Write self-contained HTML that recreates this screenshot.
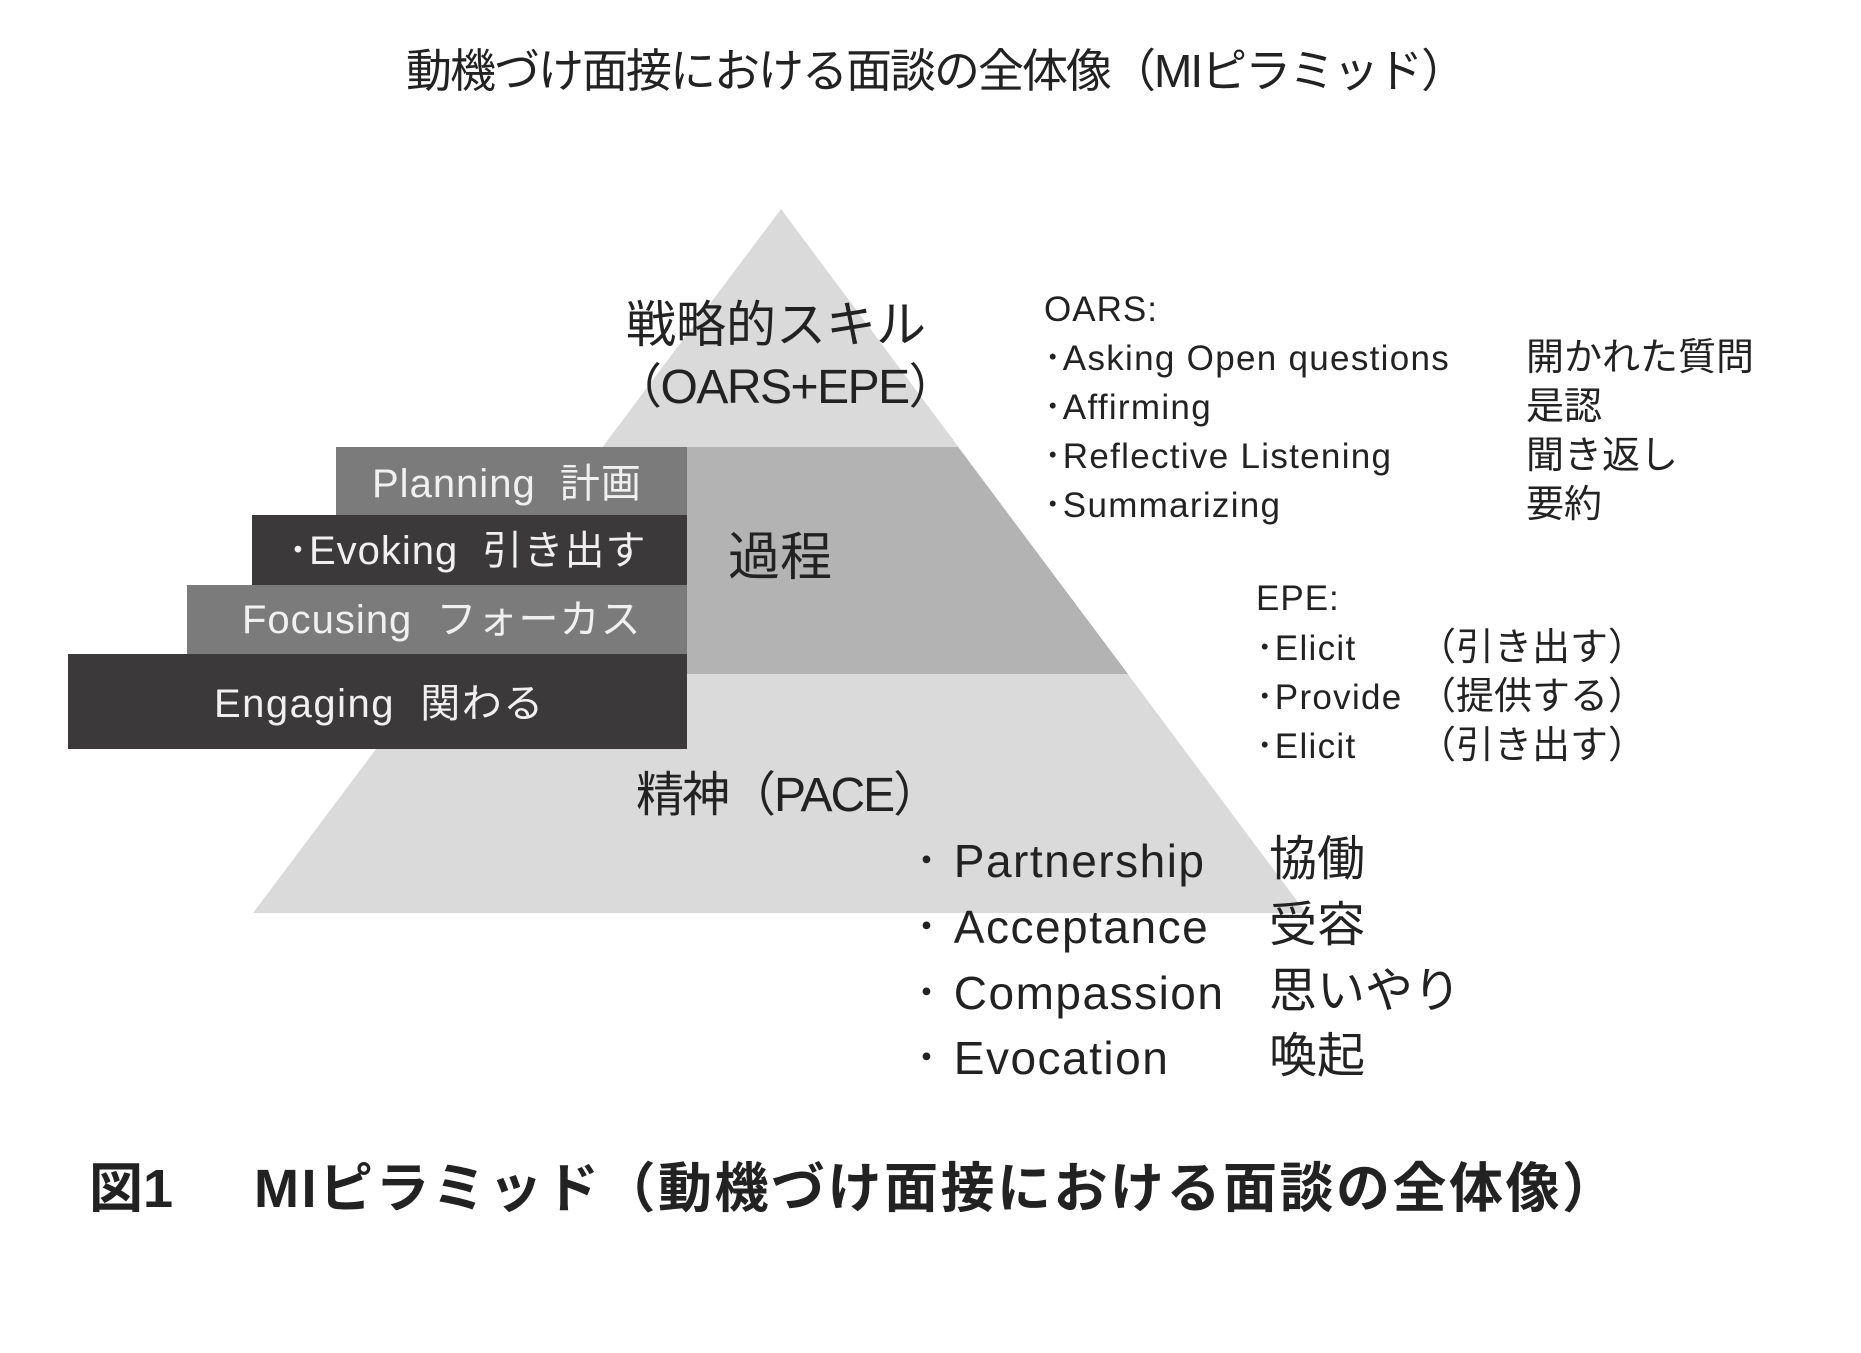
<!DOCTYPE html>
<html><head><meta charset="utf-8"><style>
html,body{margin:0;padding:0;background:#fff;}
body{width:1861px;height:1353px;position:relative;overflow:hidden;font-family:"Liberation Sans","Noto Sans CJK JP",sans-serif;color:#222;}
.t{position:absolute;white-space:nowrap;line-height:1;}
.w{color:#f0f0f0;}
</style></head><body>
<svg width="1861" height="1353" style="position:absolute;left:0;top:0">
  <polygon points="781,209 253,913 1306,913" fill="#dadada"/>
  <polygon points="604,447 958,447 1128,674 434,674" fill="#b3b3b3"/>
  <rect x="336" y="447" width="351" height="68" fill="#7b7b7b"/>
  <rect x="252" y="515" width="435" height="70" fill="#3b3939"/>
  <rect x="187" y="585" width="500" height="69" fill="#7b7b7b"/>
  <rect x="68" y="654" width="619" height="95" fill="#3b3939"/>
</svg>

<div class="t" style="left:406px;top:48px;font-size:46px;letter-spacing:-2px;">動機づけ面接における面談の全体像（MIピラミッド）</div>

<div class="t" style="left:626px;top:300px;font-size:50px;">戦略的スキル</div>
<div class="t" style="left:614px;top:364px;font-size:48px;letter-spacing:-1.5px;">（OARS+EPE）</div>

<div class="t w" style="left:372px;top:464px;font-size:40px;letter-spacing:1px;">Planning&nbsp; 計画</div>
<div class="t w" style="left:288px;top:531px;font-size:40px;letter-spacing:1px;">･Evoking&nbsp; 引き出す</div>
<div class="t w" style="left:242px;top:600px;font-size:40px;letter-spacing:1px;">Focusing&nbsp; フォーカス</div>
<div class="t w" style="left:214px;top:684px;font-size:40px;letter-spacing:1.5px;">Engaging&nbsp; 関わる</div>

<div class="t" style="left:728px;top:532px;font-size:52px;">過程</div>
<div class="t" style="left:636px;top:772px;font-size:48px;letter-spacing:-2px;">精神（PACE）</div>

<div class="t" style="left:1044px;top:292px;font-size:35px;letter-spacing:1px;">OARS:</div>
<div class="t" style="left:1044px;top:341px;font-size:35px;letter-spacing:1.3px;">･Asking Open questions</div>
<div class="t" style="left:1044px;top:390px;font-size:35px;letter-spacing:1.3px;">･Affirming</div>
<div class="t" style="left:1044px;top:439px;font-size:35px;letter-spacing:1.3px;">･Reflective Listening</div>
<div class="t" style="left:1044px;top:488px;font-size:35px;letter-spacing:1.3px;">･Summarizing</div>
<div class="t" style="left:1526px;top:339px;font-size:38px;">開かれた質問</div>
<div class="t" style="left:1526px;top:388px;font-size:38px;">是認</div>
<div class="t" style="left:1526px;top:437px;font-size:38px;">聞き返し</div>
<div class="t" style="left:1526px;top:486px;font-size:38px;">要約</div>

<div class="t" style="left:1256px;top:581px;font-size:35px;letter-spacing:1px;">EPE:</div>
<div class="t" style="left:1256px;top:631px;font-size:35px;letter-spacing:1.3px;">･Elicit</div>
<div class="t" style="left:1256px;top:680px;font-size:35px;letter-spacing:1.3px;">･Provide</div>
<div class="t" style="left:1256px;top:729px;font-size:35px;letter-spacing:1.3px;">･Elicit</div>
<div class="t" style="left:1418px;top:629px;font-size:38px;">（引き出す）</div>
<div class="t" style="left:1418px;top:678px;font-size:38px;">（提供する）</div>
<div class="t" style="left:1418px;top:727px;font-size:38px;">（引き出す）</div>

<div class="t" style="left:915px;top:838px;font-size:46px;letter-spacing:1.5px;">･&nbsp;Partnership</div>
<div class="t" style="left:915px;top:904px;font-size:46px;letter-spacing:1.5px;">･&nbsp;Acceptance</div>
<div class="t" style="left:915px;top:970px;font-size:46px;letter-spacing:1.5px;">･&nbsp;Compassion</div>
<div class="t" style="left:915px;top:1035px;font-size:46px;letter-spacing:1.5px;">･&nbsp;Evocation</div>
<div class="t" style="left:1269px;top:836px;font-size:48px;">協働</div>
<div class="t" style="left:1269px;top:902px;font-size:48px;">受容</div>
<div class="t" style="left:1269px;top:968px;font-size:48px;">思いやり</div>
<div class="t" style="left:1269px;top:1033px;font-size:48px;">喚起</div>

<div class="t" style="left:89px;top:1162px;font-size:54px;font-weight:bold;">図1</div>
<div class="t" style="left:254px;top:1162px;font-size:54px;font-weight:bold;letter-spacing:2.5px;">MIピラミッド（動機づけ面接における面談の全体像）</div>
</body></html>
